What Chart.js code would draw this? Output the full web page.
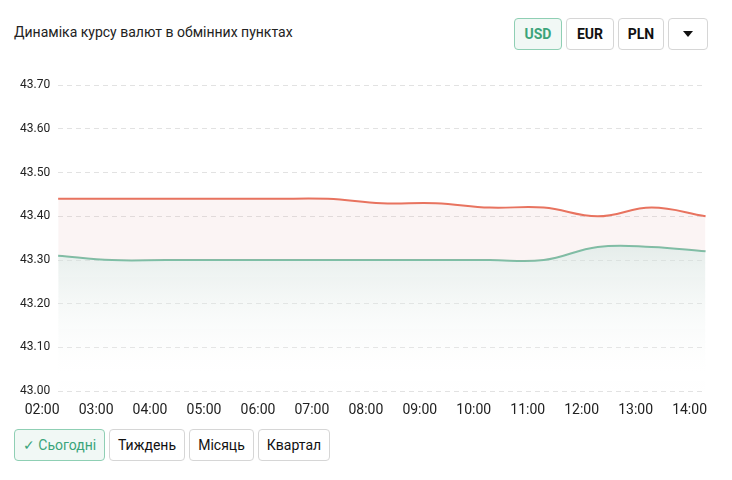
<!DOCTYPE html>
<html><head><meta charset="utf-8">
<script src="https://cdn.jsdelivr.net/npm/chart.js@4/dist/chart.umd.min.js"></script>
<style>
body{margin:0;background:#fff;font-family:Roboto,Arial,sans-serif;width:732px;height:480px;position:relative;overflow:hidden}
.title{position:absolute;left:14px;top:24px;font-size:14px;color:#222}
.btn{position:absolute;box-sizing:border-box;border:1px solid #d6d6d6;border-radius:4px;background:#fff;font-size:14px;display:flex;align-items:center;justify-content:center;color:#111}
.cur{font-weight:bold;top:18px;height:32px}
.act{border-color:#8fcfb4;background:#f1f8f5;color:#3ba47a}
.per{top:429px;height:32px}
#wrap{position:absolute;left:0;top:70px;width:726px;height:352px}
</style></head><body>
<div class="title">Динаміка курсу валют в обмінних пунктах</div>
<div class="btn cur act" style="left:514px;width:48px">USD</div>
<div class="btn cur" style="left:566px;width:48px">EUR</div>
<div class="btn cur" style="left:618px;width:46px">PLN</div>
<div class="btn cur" style="left:668px;width:40px"><svg width="10" height="6"><path d="M0 0H10L5 6Z" fill="#111"/></svg></div>
<div class="btn per act" style="left:14px;width:91px">✓&nbsp;Сьогодні</div>
<div class="btn per" style="left:109px;width:76px">Тиждень</div>
<div class="btn per" style="left:189px;width:65px">Місяць</div>
<div class="btn per" style="left:258px;width:72px">Квартал</div>
<div id="wrap"><canvas id="c"></canvas></div>
<script>
const labels=["02:00","03:00","04:00","05:00","06:00","07:00","08:00","09:00","10:00","11:00","12:00","13:00","14:00"];
const sellRates=[43.44,43.44,43.44,43.44,43.44,43.44,43.43,43.43,43.42,43.42,43.40,43.42,43.40];
const buyRates=[43.31,43.30,43.30,43.30,43.30,43.30,43.30,43.30,43.30,43.30,43.33,43.33,43.32];
new Chart(document.getElementById('c'),{type:'line',
data:{labels,datasets:[
{data:sellRates,borderColor:'#e8735f',borderWidth:2,pointRadius:0,tension:0.4,fill:'+1',backgroundColor:'rgba(220,150,150,0.1)'},
{data:buyRates,borderColor:'#7dbfa6',borderWidth:2,pointRadius:0,tension:0.4,fill:'origin',
 backgroundColor:(ctx)=>{const a=ctx.chart.chartArea;if(!a)return 'rgba(200,215,210,0.4)';const g=ctx.chart.ctx.createLinearGradient(0,a.top+150,0,a.bottom);g.addColorStop(0,'rgba(205,220,215,0.6)');g.addColorStop(1,'rgba(255,255,255,0)');return g;}}
]},
options:{responsive:true,maintainAspectRatio:false,animation:false,
plugins:{legend:{display:false},tooltip:{enabled:false}},
layout:{padding:{left:12,right:2,top:0,bottom:0}},
scales:{
x:{offset:false,grid:{display:false},border:{display:false},ticks:{color:'#222',font:{family:'Roboto',size:14},maxRotation:0,labelOffset:-16,autoSkip:false}},
y:{min:43,max:43.7,border:{display:false,dash:[5,4]},grid:{color:'#e2e2e2',tickLength:0,drawTicks:false},
 ticks:{stepSize:0.1,color:'#222',font:{family:'Roboto',size:12},padding:8,callback:v=>v.toFixed(2)}}
}}});
</script></body></html>
